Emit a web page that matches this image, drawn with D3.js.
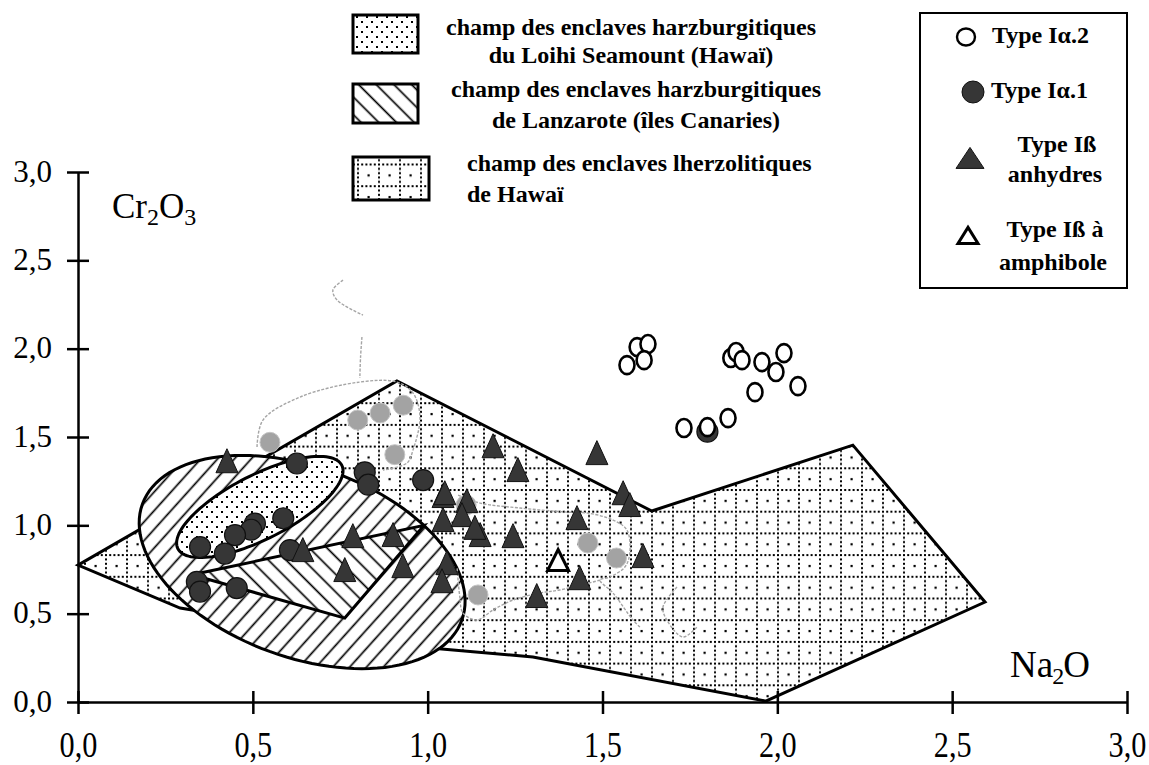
<!DOCTYPE html>
<html><head><meta charset="utf-8">
<script src="https://cdn.jsdelivr.net/npm/d3@7"></script>
<style>body{margin:0;background:#fff} svg{display:block}</style>
</head><body>
<svg id="chart" width="1149" height="765"></svg>
<script>
// ---------------- data ----------------
const xTicks = [0, 0.5, 1.0, 1.5, 2.0, 2.5, 3.0];
const yTicks = [0, 0.5, 1.0, 1.5, 2.0, 2.5, 3.0];
const tickText = d => d.toFixed(1).replace('.', ',');

// Type Iα.2 (open circles)  [Na2O, Cr2O3]
const typeIa2 = [[1.570,1.907],[1.599,2.009],[1.630,2.026],[1.619,1.935],[1.733,1.551],[1.800,1.556],
  [1.859,1.607],[1.867,1.947],[1.882,1.981],[1.899,1.935],[1.956,1.924],[1.936,1.754],[1.996,1.868],
  [2.019,1.975],[2.059,1.788]];
// Type Iα.1 (filled circles)
const typeIa1 = [[0.626,1.350],[0.820,1.300],[0.830,1.230],[0.987,1.256],[0.587,1.040],[0.506,1.010],
  [0.495,0.975],[0.449,0.945],[0.349,0.877],[0.420,0.840],[0.606,0.860],[0.340,0.680],[0.349,0.625],
  [0.454,0.645],[1.800,1.530]];
// Type Iß anhydres (filled triangles)
const typeIbAnhydre = [[0.426,1.352],[0.643,0.849],[0.786,0.928],[0.763,0.736],[0.901,0.934],[0.929,0.758],
  [1.044,1.155],[1.044,1.019],[1.049,1.171],[1.112,1.126],[1.098,1.047],[1.150,0.934],[1.135,0.975],
  [1.187,1.437],[1.258,1.302],[1.484,1.398],[1.559,1.171],[1.578,1.104],[1.244,0.928],[1.427,1.030],
  [1.616,0.815],[1.435,0.690],[1.312,0.589],[1.055,0.775],[1.041,0.673]];
// Type Iß à amphibole (open triangle)
const typeIbAmphibole = [[1.373,0.792]];
// grey pencil-shaded points
const greyMarks = [[0.549,1.470],[0.800,1.596],[0.864,1.636],[0.930,1.680],[0.906,1.400],
  [1.110,1.115],[1.458,0.900],[1.540,0.815],[1.144,0.606]];
// faint pencil strokes on the scan
const pencilMarks = [
  [[0.512,1.443],[0.529,1.596],[0.635,1.726],[0.806,1.811],[0.912,1.811],[0.958,1.749],[0.978,1.613],[0.958,1.426],[0.941,1.353],[0.872,1.313]],
  [[0.812,2.066],[0.808,1.950],[0.806,1.834]],
  [[0.758,2.388],[0.729,2.332],[0.741,2.275],[0.815,2.190]],
  [[1.087,1.171],[1.150,1.126],[1.264,1.098],[1.398,1.075],[1.456,1.070],[1.530,1.030],[1.570,0.973],[1.578,0.843],[1.564,0.764],[1.521,0.707],[1.493,0.690],[1.530,0.617],[1.587,0.464],[1.607,0.424]],
  [[1.493,0.690],[1.378,0.634],[1.321,0.617],[1.244,0.577],[1.187,0.521],[1.141,0.464],[1.101,0.504],[1.092,0.594],[1.084,0.764]],
  [[1.713,0.651],[1.673,0.538],[1.684,0.464],[1.730,0.368],[1.770,0.424]]
];

// fields
const hawaiiLherzField = [[0,0.775],[0.912,1.817],[1.641,1.081],[2.216,1.454],[2.594,0.566],
  [1.967,0.005],[1.301,0.255],[0.975,0.311],[0.292,0.532]];
const lanzaroteField = [[0.326,0.720],[0.990,1.000],[0.763,0.475]];
// ellipses: centre x, centre y, semi-axis a, semi-axis b (Na2O units), tilt (deg)
const outerEnvelope = [0.641, 0.792, 0.486, 0.272, 20];
const loihiField = [0.520, 1.104, 0.263, 0.0915, -27];

const legendFields = [
  {pat:'dots',  lines:['champ des enclaves harzburgitiques','du Loihi Seamount (Hawaï)']},
  {pat:'hatchB',lines:['champ des enclaves harzburgitiques','de Lanzarote (îles Canaries)']},
  {pat:'grid',  lines:['champ des enclaves lherzolitiques','de Hawaï']}
];
const legendTypes = [
  {sym:'openCircle', lines:['Type Iα.2']},
  {sym:'filledCircle', lines:['Type Iα.1']},
  {sym:'filledTri', lines:['Type Iß','anhydres']},
  {sym:'openTri', lines:['Type Iß à','amphibole']}
];

// ---------------- drawing ----------------
const svg = d3.select('#chart');
const x = d3.scaleLinear().domain([0,3]).range([78,1127]);
const y = d3.scaleLinear().domain([0,3]).range([702,172]);
const SERIF = "'Liberation Serif','DejaVu Serif',serif";
const DARK = '#363636';

const defs = svg.append('defs');
// grid-dotted pattern
const gp = defs.append('pattern').attr('id','grid').attr('patternUnits','userSpaceOnUse')
  .attr('width',21).attr('height',21.7).attr('x',x(0)+6).attr('y',y(0)+4);
gp.append('rect').attr('width',21).attr('height',21.7).attr('fill','#fff');
for (let i=0;i<5;i++){
  gp.append('rect').attr('x',i*4.2).attr('y',0).attr('width',2).attr('height',2);
  gp.append('rect').attr('x',0).attr('y',i*4.34).attr('width',2).attr('height',2);
}
gp.append('rect').attr('x',10.5).attr('y',10.8).attr('width',2.2).attr('height',2.2);
// stipple pattern
const sp = defs.append('pattern').attr('id','dots').attr('patternUnits','userSpaceOnUse')
  .attr('width',10).attr('height',10);
sp.append('rect').attr('width',10).attr('height',10).attr('fill','#fff');
sp.append('rect').attr('x',1).attr('y',1).attr('width',2).attr('height',2);
sp.append('rect').attr('x',6).attr('y',6).attr('width',2).attr('height',2);
// hatch patterns
function hatch(id, spacing, angle, w){
  const p = defs.append('pattern').attr('id',id).attr('patternUnits','userSpaceOnUse')
    .attr('width',spacing).attr('height',spacing).attr('patternTransform',`rotate(${angle})`);
  p.append('rect').attr('width',spacing).attr('height',spacing).attr('fill','#fff');
  p.append('line').attr('x1',spacing/2).attr('x2',spacing/2).attr('y1',0).attr('y2',spacing)
    .attr('stroke','#000').attr('stroke-width',w);
}
hatch('hatchF', 12.5, 42, 1.7);   // "/" lines
hatch('hatchB', 12.5, -45, 1.7);  // "\" lines

// fields
const lineGen = d3.line().x(d=>x(d[0])).y(d=>y(d[1])).curve(d3.curveLinearClosed);
function ellipsePath(e){
  const [cx,cy,a,b,ang] = e;
  const k = x(1)-x(0), th = ang*Math.PI/180;
  const pts = d3.range(0,360,3).map(t=>{
    const r=t*Math.PI/180, ax=a*k*Math.cos(r), by=b*k*Math.sin(r);
    return [x(cx)+ax*Math.cos(th)-by*Math.sin(th), y(cy)+ax*Math.sin(th)+by*Math.cos(th)];
  });
  return d3.line().curve(d3.curveLinearClosed)(pts);
}
const g = svg.append('g');
g.append('path').attr('d',lineGen(hawaiiLherzField)).attr('fill','url(#grid)')
  .attr('stroke','#000').attr('stroke-width',3).attr('stroke-linejoin','miter');
g.append('path').attr('d',ellipsePath(outerEnvelope)).attr('fill','url(#hatchF)')
  .attr('stroke','#000').attr('stroke-width',3);
g.append('path').attr('d',lineGen(lanzaroteField)).attr('fill','url(#hatchB)')
  .attr('stroke','#000').attr('stroke-width',3);
g.append('path').attr('d',ellipsePath(loihiField)).attr('fill','url(#dots)')
  .attr('stroke','#000').attr('stroke-width',3);

// axes
const xAxis = svg.append('g').attr('transform',`translate(0,${y(0)})`)
  .call(d3.axisBottom(x).tickValues(xTicks).tickFormat(tickText).tickSizeOuter(0));
xAxis.select('.domain').attr('stroke-width',2.5);
xAxis.selectAll('.tick line').attr('y1',-11).attr('y2',12).attr('stroke-width',2.5);
xAxis.selectAll('.tick text').attr('y',null).attr('dy',null)
  .attr('font-family',SERIF).attr('font-size',36).attr('fill','#000')
  .attr('transform','translate(0,55) scale(0.84,1)');
const yAxis = svg.append('g').attr('transform',`translate(${x(0)},0)`)
  .call(d3.axisLeft(y).tickValues(yTicks).tickFormat(tickText).tickSizeOuter(0));
yAxis.select('.domain').attr('stroke-width',2.5);
yAxis.selectAll('.tick line').attr('x1',-11).attr('x2',11).attr('stroke-width',2.5);
yAxis.selectAll('.tick text').attr('x',-26).attr('dy',null).attr('y',9)
  .attr('font-family',SERIF).attr('font-size',31).attr('fill','#000');

// axis titles
const cr = svg.append('text').attr('x',112).attr('y',218).attr('font-family',SERIF).attr('font-size',35);
cr.append('tspan').text('Cr');
cr.append('tspan').text('2').attr('font-size',24).attr('dy',7);
cr.append('tspan').text('O').attr('dy',-7);
cr.append('tspan').text('3').attr('font-size',24).attr('dy',7);
const na = svg.append('text').attr('x',1010).attr('y',677).attr('font-family',SERIF).attr('font-size',37);
na.append('tspan').text('Na');
na.append('tspan').text('2').attr('font-size',24).attr('dy',7).attr('dx',-1);
na.append('tspan').text('O').attr('dy',-7).attr('dx',-1);

// pencil strokes
const pencil = d3.line().x(d=>x(d[0])).y(d=>y(d[1])).curve(d3.curveCatmullRom);
svg.append('g').selectAll('path').data(pencilMarks).join('path')
  .attr('d',pencil).attr('fill','none').attr('stroke','#a5a5a5').attr('stroke-width',1.4)
  .attr('stroke-dasharray','3,1.5');

// symbols
const tri = (w,h) => `M0,${-h*0.6}L${w/2},${h*0.4}L${-w/2},${h*0.4}Z`;
svg.append('g').selectAll('circle').data(greyMarks).join('circle')
  .attr('cx',d=>x(d[0])).attr('cy',d=>y(d[1])).attr('r',10)
  .attr('fill','#a3a3a3').attr('stroke','#c4c4c4').attr('stroke-width',1);
svg.append('g').selectAll('circle').data(typeIa1).join('circle')
  .attr('cx',d=>x(d[0])).attr('cy',d=>y(d[1])).attr('r',10.5)
  .attr('fill',DARK).attr('stroke','#111').attr('stroke-width',1.2);
svg.append('g').selectAll('path').data(typeIbAnhydre).join('path')
  .attr('d',tri(22,24)).attr('transform',d=>`translate(${x(d[0])},${y(d[1])})`)
  .attr('fill',DARK).attr('stroke','#111').attr('stroke-width',1);
svg.append('g').selectAll('path').data(typeIbAmphibole).join('path')
  .attr('d',tri(21,21)).attr('transform',d=>`translate(${x(d[0])},${y(d[1])})`)
  .attr('fill','#fff').attr('stroke','#000').attr('stroke-width',3);
svg.append('g').selectAll('ellipse').data(typeIa2).join('ellipse')
  .attr('cx',d=>x(d[0])).attr('cy',d=>y(d[1])).attr('rx',7.5).attr('ry',9)
  .attr('fill','#fff').attr('stroke','#000').attr('stroke-width',2.6);

// legend: fields
const lf = svg.append('g');
const swY = [15,84,157], swH=[38,39,43], swW=[65,65,76];
const txtLines = [[{x:631,y:35,a:'middle'},{x:631,y:63,a:'middle'}],
                  [{x:636,y:97,a:'middle'},{x:636,y:128,a:'middle'}],
                  [{x:467,y:171,a:'start'},{x:467,y:202,a:'start'}]];
legendFields.forEach((f,i)=>{
  lf.append('rect').attr('x',353).attr('y',swY[i]).attr('width',swW[i]).attr('height',swH[i])
    .attr('fill',`url(#${f.pat})`).attr('stroke','#000').attr('stroke-width',3);
  f.lines.forEach((t,j)=>{
    lf.append('text').attr('x',txtLines[i][j].x).attr('y',txtLines[i][j].y)
      .attr('text-anchor',txtLines[i][j].a).attr('font-family',SERIF).attr('font-weight','bold')
      .attr('font-size',24).text(t);
  });
});

// legend: types
const lt = svg.append('g');
lt.append('rect').attr('x',920).attr('y',13).attr('width',207).attr('height',275)
  .attr('fill','#fff').attr('stroke','#000').attr('stroke-width',2);
const symPos = [[966,37],[973,92],[970,160],[968,237]];
const textPos = [[[992,43,'start']],[[991,98,'start']],[[1057,152,'middle'],[1055,182,'middle']],
                 [[1055,237,'middle'],[1053,270,'middle']]];
legendTypes.forEach((t,i)=>{
  const [sx,sy] = symPos[i];
  if (t.sym==='openCircle') lt.append('ellipse').attr('cx',sx).attr('cy',sy).attr('rx',9).attr('ry',8.5)
    .attr('fill','#fff').attr('stroke','#000').attr('stroke-width',2.4);
  if (t.sym==='filledCircle') lt.append('circle').attr('cx',sx).attr('cy',sy).attr('r',11)
    .attr('fill',DARK).attr('stroke','#111');
  if (t.sym==='filledTri') lt.append('path').attr('d',tri(28,21)).attr('transform',`translate(${sx},${sy})`)
    .attr('fill',DARK).attr('stroke','#111');
  if (t.sym==='openTri') lt.append('path').attr('d',tri(20,16)).attr('transform',`translate(${sx},${sy})`)
    .attr('fill','#fff').attr('stroke','#000').attr('stroke-width',3);
  t.lines.forEach((s,j)=>{
    const [tx,ty,a] = textPos[i][j];
    lt.append('text').attr('x',tx).attr('y',ty).attr('text-anchor',a).attr('font-family',SERIF)
      .attr('font-weight','bold').attr('font-size',24).text(s);
  });
});
</script>
</body></html>
